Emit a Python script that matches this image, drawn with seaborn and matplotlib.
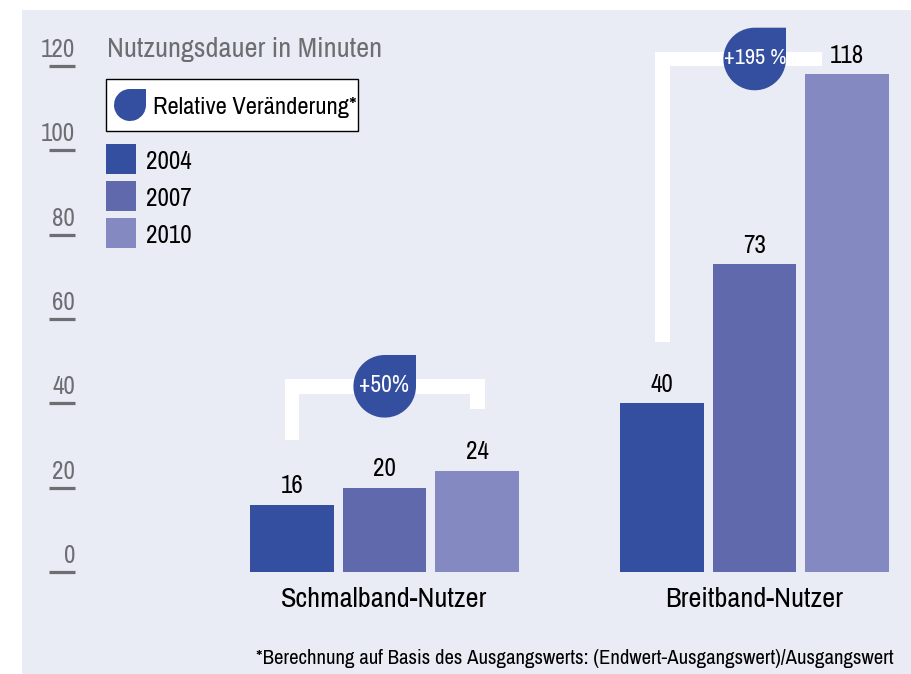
import numpy as np
import pandas as pd
import matplotlib
matplotlib.use("Agg")
import matplotlib.pyplot as plt
from matplotlib.patches import Rectangle, PathPatch, Polygon
from matplotlib.path import Path
from matplotlib.transforms import Affine2D, ScaledTranslation
import seaborn as sns

groups = ["Schmalband-Nutzer", "Breitband-Nutzer"]
years = ["2004", "2007", "2010"]
schmalband = [16, 20, 24]
breitband = [40, 73, 118]
changes = ["+50%", "+195 %"]
yticks = [0, 20, 40, 60, 80, 100, 120]
colors = ["#344F9F", "#6069AC", "#8589C1"]

sns.set_theme(style="white")
plt.rcParams["font.family"] = ["Archivo Narrow", "Roboto", "DejaVu Sans"]

W, H = 912, 674
fig = plt.figure(figsize=(W / 100, H / 100), dpi=100, facecolor="white")
px = Affine2D().scale(1 / W, -1 / H).translate(0, 1) + fig.transFigure
PT = 0.72

fig.add_artist(Rectangle((22, 10), 890, 664, transform=px, fc="#E9EBF5", ec="none", zorder=-5))

ax = fig.add_axes([75 / W, (H - 572) / H, (912 - 75) / W, (572 - 10) / H], facecolor="none")
df = pd.DataFrame({
    "Gruppe": [groups[0]] * 3 + [groups[1]] * 3,
    "Jahr": years * 2,
    "Minuten": schmalband + breitband,
})
sns.barplot(data=df, x="Gruppe", y="Minuten", hue="Jahr", order=groups, hue_order=years,
            palette=colors, saturation=1, width=0.75, gap=0.092, linewidth=0, edgecolor="none", ax=ax)

ax.set_xlim((75 - 384.5) / 370, (912 - 384.5) / 370)
ax.set_ylim(0, (572 - 10) / 4.2167)
sns.despine(ax=ax, left=True, bottom=True)
ax.set_xlabel("")
ax.set_ylabel("")

GRAY = "#6D6E71"
FS_NUM = 18
FS_LAB = 20.4
ax.set_yticks(yticks)
ax.set_yticklabels([str(v) for v in yticks])
ax.tick_params(axis="y", length=26 * PT, width=3.2 * PT, color=GRAY, labelcolor=GRAY,
               labelsize=FS_NUM, pad=-26 * PT, left=True)
shift = ScaledTranslation(0, 5 / 100, fig.dpi_scale_trans)
for tick in ax.yaxis.get_major_ticks():
    tick.label1.set_verticalalignment("bottom")
    tick.label1.set_horizontalalignment("right")
    tick.label1.set_transform(tick.label1.get_transform() + shift)
ax.tick_params(axis="x", length=0, pad=10.5, labelsize=FS_LAB, labelcolor="black")

for c in ax.containers:
    ax.bar_label(c, padding=5.5, fontsize=FS_NUM, color="black")


def droplet(cx, cy, r, **kw):
    arc = Path.arc(90, 360)
    v = np.vstack([arc.vertices, [[1, 1], [0, 1], [0, 1]]])
    cd = np.concatenate([arc.codes, [Path.LINETO, Path.LINETO, Path.CLOSEPOLY]])
    tr = Affine2D().scale(r, -r).translate(cx, cy) + px
    ax.add_patch(PathPatch(Path(v, cd), transform=tr, clip_on=False, ec="none", zorder=6, **kw))


bracket_a = [(285, 440), (285, 379), (485, 379), (485, 409), (470, 409), (470, 394), (299.5, 394), (299.5, 440)]
bracket_b = [(655, 342), (655, 51.7), (822, 51.7), (822, 66.3), (669.7, 66.3), (669.7, 342)]
for pts in (bracket_a, bracket_b):
    ax.add_patch(Polygon(pts, closed=True, transform=px, fc="white", ec="none", clip_on=False, zorder=5))

droplet(384.7, 386.3, 31.3, fc=colors[0])
droplet(754.7, 59, 31.3, fc=colors[0])
ax.text(384.5, 386, changes[0], transform=px, color="white", ha="center", va="center", fontsize=17, zorder=7)
ax.text(754.7, 58, changes[1], transform=px, color="white", ha="center", va="center", fontsize=16, zorder=7)

ax.text(107, 50, "Nutzungsdauer in Minuten", transform=px, color=GRAY, ha="left", va="center", fontsize=FS_LAB)

ax.add_patch(Rectangle((106.5, 78.5), 251.5, 52, transform=px, fc="white", ec="black", lw=1, clip_on=False, zorder=5))
droplet(130, 105, 16, fc=colors[0])
ax.text(153, 108, "Relative Veränderung*", transform=px, color="black", ha="left", va="center", fontsize=17.6, zorder=7)

handles, labels = ax.get_legend_handles_labels()
fs_px = FS_NUM / PT
hh = (30 / fs_px - 0.245) / 0.65
leg = ax.legend(handles, labels, loc="upper left", bbox_to_anchor=(106, 144), bbox_transform=px,
                frameon=False, borderpad=0, borderaxespad=0, fontsize=FS_NUM,
                handlelength=30 / fs_px, handleheight=hh, labelspacing=7 / fs_px,
                handletextpad=10 / fs_px, labelcolor="black")
for t in leg.get_texts():
    t.set_y(-1.5)

ax.text(894, 659, "*Berechnung auf Basis des Ausgangswerts: (Endwert-Ausgangswert)/Ausgangswert",
        transform=px, color="black", ha="right", va="center", fontsize=14.9)

fig.savefig("out.png", dpi=100)
